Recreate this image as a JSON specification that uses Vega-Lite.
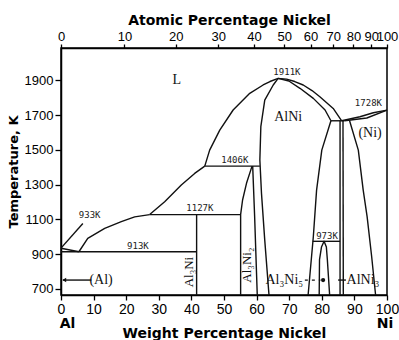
{
  "$schema": "https://vega.github.io/schema/vega-lite/v6.json",
  "autosize": {"type": "none"},
  "width": 326,
  "height": 247,
  "padding": {"left": 61, "top": 48, "right": 12, "bottom": 45},
  "background": "white",
  "config": {
    "view": {"stroke": "#000", "strokeWidth": 1.5},
    "axis": {"domainColor": "#000", "domainWidth": 1.5, "tickColor": "#000", "tickWidth": 1.3, "labelColor": "#000", "titleColor": "#000", "grid": false, "labelFont": "Liberation Sans", "titleFont": "DejaVu Sans", "titleFontWeight": "bold", "labelFlush": false, "labelOverlap": false}
  },
  "datasets": {
    "lines": [
      {"seg": "liqAl", "i": 0, "w": 0, "T": 933}, {"seg": "liqAl", "i": 1, "w": 5.5, "T": 913},
      {"seg": "liq1", "i": 0, "w": 5.5, "T": 913}, {"seg": "liq1", "i": 1, "w": 8.2, "T": 990}, {"seg": "liq1", "i": 2, "w": 13.4, "T": 1048}, {"seg": "liq1", "i": 3, "w": 18.5, "T": 1086}, {"seg": "liq1", "i": 4, "w": 22.6, "T": 1114}, {"seg": "liq1", "i": 5, "w": 27.2, "T": 1127},
      {"seg": "liq2", "i": 0, "w": 27.2, "T": 1127}, {"seg": "liq2", "i": 1, "w": 31.8, "T": 1201}, {"seg": "liq2", "i": 2, "w": 36.9, "T": 1297}, {"seg": "liq2", "i": 3, "w": 41.0, "T": 1364}, {"seg": "liq2", "i": 4, "w": 44.1, "T": 1406},
      {"seg": "liq3", "i": 0, "w": 44.1, "T": 1406}, {"seg": "liq3", "i": 1, "w": 45.6, "T": 1498}, {"seg": "liq3", "i": 2, "w": 48.7, "T": 1613}, {"seg": "liq3", "i": 3, "w": 52.8, "T": 1729}, {"seg": "liq3", "i": 4, "w": 57.9, "T": 1825}, {"seg": "liq3", "i": 5, "w": 62.0, "T": 1873}, {"seg": "liq3", "i": 6, "w": 64.1, "T": 1893}, {"seg": "liq3", "i": 7, "w": 66.6, "T": 1911}, {"seg": "liq3", "i": 8, "w": 69.2, "T": 1907}, {"seg": "liq3", "i": 9, "w": 71.7, "T": 1893}, {"seg": "liq3", "i": 10, "w": 74.3, "T": 1873}, {"seg": "liq3", "i": 11, "w": 77.0, "T": 1841}, {"seg": "liq3", "i": 12, "w": 79.4, "T": 1805}, {"seg": "liq3", "i": 13, "w": 83.5, "T": 1738}, {"seg": "liq3", "i": 14, "w": 86.1, "T": 1667},
      {"seg": "sol", "i": 0, "w": 66.6, "T": 1911}, {"seg": "sol", "i": 1, "w": 69.9, "T": 1896}, {"seg": "sol", "i": 2, "w": 73.3, "T": 1854}, {"seg": "sol", "i": 3, "w": 77.4, "T": 1796}, {"seg": "sol", "i": 4, "w": 81.0, "T": 1729}, {"seg": "sol", "i": 5, "w": 82.8, "T": 1667},
      {"seg": "h1667", "i": 0, "w": 82.8, "T": 1667}, {"seg": "h1667", "i": 1, "w": 87.0, "T": 1667},
      {"seg": "liqNi", "i": 0, "w": 86.1, "T": 1667}, {"seg": "liqNi", "i": 1, "w": 91.7, "T": 1690}, {"seg": "liqNi", "i": 2, "w": 95.8, "T": 1713}, {"seg": "liqNi", "i": 3, "w": 100, "T": 1728},
      {"seg": "solNi", "i": 0, "w": 87.0, "T": 1667}, {"seg": "solNi", "i": 1, "w": 93.8, "T": 1683}, {"seg": "solNi", "i": 2, "w": 100, "T": 1728},
      {"seg": "AlNiR", "i": 0, "w": 82.8, "T": 1667}, {"seg": "AlNiR", "i": 1, "w": 80.0, "T": 1498}, {"seg": "AlNiR", "i": 2, "w": 78.4, "T": 1268}, {"seg": "AlNiR", "i": 3, "w": 77.4, "T": 999}, {"seg": "AlNiR", "i": 4, "w": 75.8, "T": 664},
      {"seg": "AlNi3a", "i": 0, "w": 85.6, "T": 1667}, {"seg": "AlNi3a", "i": 1, "w": 85.6, "T": 664},
      {"seg": "AlNi3b", "i": 0, "w": 86.5, "T": 1667}, {"seg": "AlNi3b", "i": 1, "w": 86.6, "T": 664},
      {"seg": "NiSolv", "i": 0, "w": 88.5, "T": 1669}, {"seg": "NiSolv", "i": 1, "w": 91.2, "T": 1498}, {"seg": "NiSolv", "i": 2, "w": 92.7, "T": 1268}, {"seg": "NiSolv", "i": 3, "w": 93.9, "T": 1115}, {"seg": "NiSolv", "i": 4, "w": 95.3, "T": 884}, {"seg": "NiSolv", "i": 5, "w": 96.5, "T": 664},
      {"seg": "dome", "i": 0, "w": 79.2, "T": 664}, {"seg": "dome", "i": 1, "w": 79.3, "T": 868}, {"seg": "dome", "i": 2, "w": 79.9, "T": 940}, {"seg": "dome", "i": 3, "w": 80.7, "T": 973}, {"seg": "dome", "i": 4, "w": 81.4, "T": 940}, {"seg": "dome", "i": 5, "w": 81.7, "T": 868}, {"seg": "dome", "i": 6, "w": 82.4, "T": 664},
      {"seg": "h973", "i": 0, "w": 77.2, "T": 973}, {"seg": "h973", "i": 1, "w": 85.6, "T": 973},
      {"seg": "Al3Ni2L", "i": 0, "w": 58.6, "T": 1406}, {"seg": "Al3Ni2L", "i": 1, "w": 56.9, "T": 1307}, {"seg": "Al3Ni2L", "i": 2, "w": 55.7, "T": 1211}, {"seg": "Al3Ni2L", "i": 3, "w": 55.1, "T": 1127}, {"seg": "Al3Ni2L", "i": 4, "w": 55.1, "T": 664},
      {"seg": "Al3Ni2R", "i": 0, "w": 58.8, "T": 1406}, {"seg": "Al3Ni2R", "i": 1, "w": 59.4, "T": 1114}, {"seg": "Al3Ni2R", "i": 2, "w": 60.2, "T": 664},
      {"seg": "AlNiL", "i": 0, "w": 66.6, "T": 1911}, {"seg": "AlNiL", "i": 1, "w": 65.1, "T": 1873}, {"seg": "AlNiL", "i": 2, "w": 62.5, "T": 1786}, {"seg": "AlNiL", "i": 3, "w": 61.3, "T": 1633}, {"seg": "AlNiL", "i": 4, "w": 61.0, "T": 1441}, {"seg": "AlNiL", "i": 5, "w": 61.5, "T": 1249}, {"seg": "AlNiL", "i": 6, "w": 62.5, "T": 980}, {"seg": "AlNiL", "i": 7, "w": 63.8, "T": 664},
      {"seg": "h1406", "i": 0, "w": 44.1, "T": 1406}, {"seg": "h1406", "i": 1, "w": 61.0, "T": 1406},
      {"seg": "h1127", "i": 0, "w": 27.2, "T": 1127}, {"seg": "h1127", "i": 1, "w": 55.1, "T": 1127},
      {"seg": "h913", "i": 0, "w": 0, "T": 913}, {"seg": "h913", "i": 1, "w": 41.6, "T": 913},
      {"seg": "Al3Ni", "i": 0, "w": 41.6, "T": 1127}, {"seg": "Al3Ni", "i": 1, "w": 41.6, "T": 664},
      {"seg": "arr933", "i": 0, "w": 6.7, "T": 1076}, {"seg": "arr933", "i": 1, "w": 0.2, "T": 938},
      {"seg": "arrAl", "i": 0, "w": 9.3, "T": 750}, {"seg": "arrAl", "i": 1, "w": 0.6, "T": 750},
      {"seg": "arrAlNi3", "i": 0, "w": 85.0, "T": 750}, {"seg": "arrAlNi3", "i": 1, "w": 87.4, "T": 750}
    ],
    "dashes": [
      {"seg": "dash5", "i": 0, "w": 74.8, "T": 750}, {"seg": "dash5", "i": 1, "w": 79.6, "T": 750}
    ],
    "marks": [
      {"kind": "dot", "w": 80.4, "T": 750},
      {"kind": "head", "w": 1.0, "T": 750}
    ],
    "labels": [
      {"grp": "temp", "label": "1911K", "w": 69.3, "T": 1949},
      {"grp": "temp", "label": "1728K", "w": 94.3, "T": 1767},
      {"grp": "temp", "label": "1406K", "w": 53.3, "T": 1444},
      {"grp": "temp", "label": "1127K", "w": 42.6, "T": 1162},
      {"grp": "temp", "label": "933K", "w": 8.8, "T": 1124},
      {"grp": "temp", "label": "913K", "w": 23.6, "T": 946},
      {"grp": "temp", "label": "973K", "w": 81.6, "T": 1003},
      {"grp": "phase", "label": "L", "w": 35.5, "T": 1901},
      {"grp": "phase", "label": "AlNi", "w": 69.7, "T": 1690},
      {"grp": "phase", "label": "(Ni)", "w": 94.8, "T": 1595},
      {"grp": "phase", "label": "(Al)", "w": 12.3, "T": 750},
      {"grp": "phaseR", "label": "Al₃Ni₅", "w": 74.3, "T": 750},
      {"grp": "phaseL", "label": "AlNi₃", "w": 87.6, "T": 750},
      {"grp": "vert", "label": "Al₃Ni", "w": 39.4, "T": 796},
      {"grp": "vert", "label": "Al₃Ni₂", "w": 57.0, "T": 836},
      {"grp": "end", "label": "Al", "w": 2.0, "T": 535},
      {"grp": "end", "label": "Ni", "w": 99.4, "T": 535}
    ]
  },
  "layer": [
    {
      "encoding": {
        "x": {"field": "w", "type": "quantitative", "scale": {"domain": [0, 100], "nice": false, "zero": false},
          "axis": {"orient": "bottom", "values": [0, 10, 20, 30, 40, 50, 60, 70, 80, 90, 100], "labelFontSize": 14, "tickSize": 5, "labelPadding": 2, "title": "Weight Percentage Nickel", "titleFontSize": 14, "titlePadding": 10}},
        "y": {"field": "T", "type": "quantitative", "scale": {"domain": [664, 2086], "nice": false, "zero": false},
          "axis": {"values": [700, 900, 1100, 1300, 1500, 1700, 1900], "format": "d", "labelFontSize": 13, "tickSize": 6, "labelPadding": 2, "title": "Temperature, K", "titleFontSize": 13, "titlePadding": 4}}
      },
      "layer": [
        {
          "data": {"name": "lines"},
          "mark": {"type": "line", "color": "#111", "strokeWidth": 1.4, "strokeJoin": "round"},
          "encoding": {
            "detail": {"field": "seg"},
            "order": {"field": "i", "type": "quantitative"}
          }
        },
        {
          "data": {"name": "dashes"},
          "mark": {"type": "line", "color": "#111", "strokeWidth": 1.3, "strokeDash": [3, 4]},
          "encoding": {
            "detail": {"field": "seg"},
            "order": {"field": "i", "type": "quantitative"}
          }
        },
        {
          "data": {"name": "marks"},
          "transform": [{"filter": "datum.kind == 'dot'"}],
          "mark": {"type": "point", "filled": true, "color": "#111", "size": 18, "opacity": 1}
        },
        {
          "data": {"name": "marks"},
          "transform": [{"filter": "datum.kind == 'head'"}],
          "mark": {"type": "point", "shape": "triangle-left", "filled": true, "color": "#111", "size": 20, "opacity": 1}
        },
        {
          "data": {"name": "labels"},
          "transform": [{"filter": "datum.grp == 'temp'"}],
          "mark": {"type": "text", "font": "DejaVu Sans Mono", "fontSize": 9, "color": "#222", "baseline": "middle", "align": "center"},
          "encoding": {"text": {"field": "label"}}
        },
        {
          "data": {"name": "labels"},
          "transform": [{"filter": "datum.grp == 'phase'"}],
          "mark": {"type": "text", "font": "Liberation Serif", "fontSize": 14, "color": "#111", "baseline": "middle", "align": "center"},
          "encoding": {"text": {"field": "label"}}
        },
        {
          "data": {"name": "labels"},
          "transform": [{"filter": "datum.grp == 'phaseR'"}],
          "mark": {"type": "text", "font": "Liberation Serif", "fontSize": 14, "color": "#111", "baseline": "middle", "align": "right"},
          "encoding": {"text": {"field": "label"}}
        },
        {
          "data": {"name": "labels"},
          "transform": [{"filter": "datum.grp == 'phaseL'"}],
          "mark": {"type": "text", "font": "Liberation Serif", "fontSize": 14, "color": "#111", "baseline": "middle", "align": "left"},
          "encoding": {"text": {"field": "label"}}
        },
        {
          "data": {"name": "labels"},
          "transform": [{"filter": "datum.grp == 'vert'"}],
          "mark": {"type": "text", "font": "Liberation Serif", "fontSize": 13, "color": "#111", "baseline": "middle", "align": "center", "angle": 270},
          "encoding": {"text": {"field": "label"}}
        },
        {
          "data": {"name": "labels"},
          "transform": [{"filter": "datum.grp == 'end'"}],
          "mark": {"type": "text", "font": "DejaVu Sans", "fontWeight": "bold", "fontSize": 14, "color": "#000", "baseline": "top", "align": "center"},
          "encoding": {"text": {"field": "label"}}
        }
      ]
    },
    {
      "data": {"values": [{"w": 0}, {"w": 100}]},
      "mark": {"type": "point", "opacity": 0},
      "encoding": {
        "x": {"field": "w", "type": "quantitative", "scale": {"domain": [0, 100], "nice": false, "zero": false},
          "axis": {"orient": "top", "values": [0, 19.47, 35.23, 48.25, 59.19, 68.51, 76.54, 83.54, 89.69, 95.14, 100],
            "labelExpr": "format(round(100*(datum.value/58.69)/(datum.value/58.69+(100-datum.value)/26.98)),'d')",
            "labelFontSize": 13, "tickSize": 4, "labelPadding": 1, "title": "Atomic Percentage Nickel", "titleFontSize": 14, "titlePadding": 3, "titleX": 168}}
      }
    }
  ],
  "resolve": {"scale": {"x": "independent"}}
}
